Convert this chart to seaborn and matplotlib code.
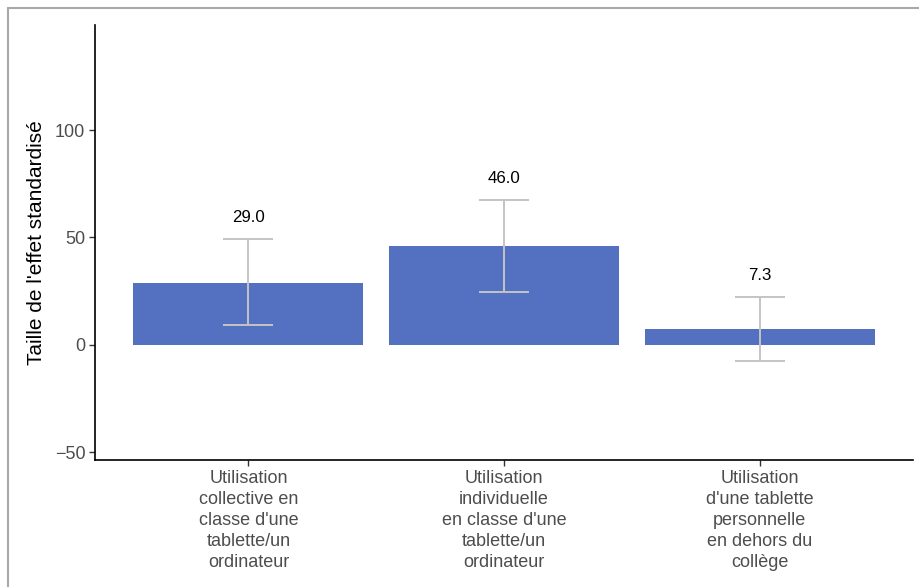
import seaborn as sns
import matplotlib.pyplot as plt
import matplotlib.lines as mlines
import pandas as pd
import numpy as np

categories = ["Utilisation\ncollective en\nclasse d'une\ntablette/un\nordinateur",
              "Utilisation\nindividuelle\nen classe d'une\ntablette/un\nordinateur",
              "Utilisation\nd'une tablette\npersonnelle\nen dehors du\ncollège"]
effect = [29.0, 46.0, 7.3]
ci_low = [9.0, 24.8, -7.4]
ci_high = [49.2, 67.3, 22.2]

sns.set_theme(style="white")
plt.rcParams['font.family'] = ['Liberation Sans', 'DejaVu Sans']

df = pd.DataFrame({"cat": categories, "effect": effect})

fig = plt.figure(figsize=(9.19, 5.87), dpi=100)
ax = fig.add_axes([0.1034, 0.2164, 0.89, 0.741])

sns.barplot(data=df, x="cat", y="effect", color="#5470c0", saturation=1,
            width=0.9, errorbar=None, linewidth=0, ax=ax)

x = np.arange(len(effect))
eff = np.array(effect)
lo = eff - np.array(ci_low)
hi = np.array(ci_high) - eff
ax.errorbar(x, eff, yerr=[lo, hi], fmt="none", ecolor="#c4c4c4",
            elinewidth=1.4, capsize=18, capthick=1.4)

for xi, top, v in zip(x, ci_high, effect):
    ax.text(xi, top + 10, f"{v:.1f}", ha="center", va="center",
            fontsize=12.2, color="black")

ax.set_xlim(-0.6, 2.6)
ax.set_ylim(-53.7, 149)
ax.set_yticks([-50, 0, 50, 100])
ax.set_yticklabels(["\u221250", "0", "50", "100"])
ax.set_xlabel("")
ax.set_ylabel("Taille de l'effet standardisé", fontsize=15, color="black", labelpad=6)

sns.despine(ax=ax)
for s in ["left", "bottom"]:
    ax.spines[s].set_color("black")
    ax.spines[s].set_linewidth(1.2)
ax.tick_params(axis="both", which="both", length=4, width=1, color="#333333",
               labelsize=13, labelcolor="#4d4d4d", direction="out",
               left=True, bottom=True, pad=3)
for lab in ax.get_xticklabels():
    lab.set_linespacing(1.32)

# grey frame lines (top and left) of the original cropped image
fig.add_artist(mlines.Line2D([8/919, 1], [1 - 8/587, 1 - 8/587], color="#a8a8a8",
                             lw=1.5, transform=fig.transFigure))
fig.add_artist(mlines.Line2D([8/919, 8/919], [0, 1 - 8/587], color="#a8a8a8",
                             lw=1.5, transform=fig.transFigure))

fig.savefig("out.png", dpi=100)
